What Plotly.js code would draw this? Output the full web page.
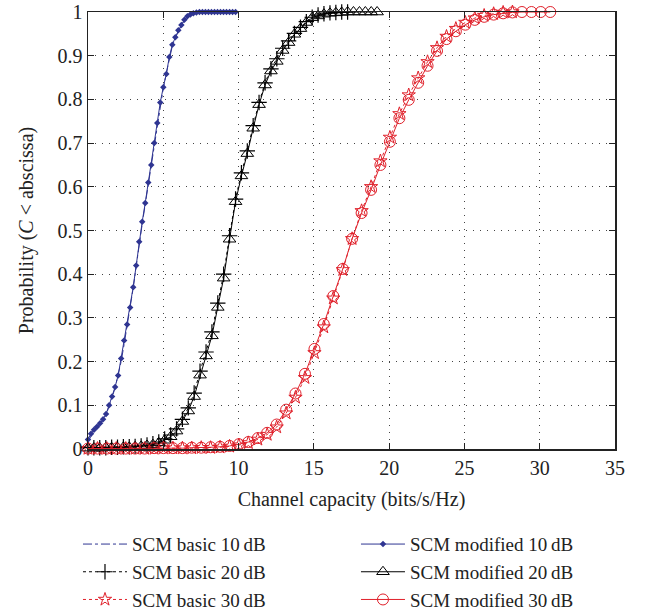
<!DOCTYPE html>
<html>
<head>
<meta charset="utf-8">
<script src="https://cdn.plot.ly/plotly-3.0.1.min.js"></script>
<style>html,body{margin:0;padding:0;background:#fff;}</style>
</head>
<body>
<div id="chart" style="width:651px;height:610px;"></div>
<script>
// Channel capacity grid points (bits/s/Hz)
const x10 = [0,0.2,0.4,0.6,0.8,1.0,1.2,1.4,1.6,1.8,2.0,2.2,2.4,2.6,2.8,3.0,3.2,3.4,3.6,3.8,4.0,4.2,4.4,4.6,4.8,5.0,5.2,5.4,5.6,5.8,6.0,6.2,6.4,6.6,6.8,7.0,7.2,7.4,7.6,7.8,8.0,8.2,8.4,8.6,8.8,9.0,9.2,9.4,9.6,9.8];
const x20 = [0,0.39,0.78,1.18,1.57,1.96,2.35,2.74,3.13,3.53,3.92,4.31,4.7,5.09,5.49,5.88,6.27,6.66,7.05,7.44,7.84,8.23,8.62,9.01,9.4,9.8,10.19,10.58,10.97,11.36,11.76,12.15,12.54,12.93,13.32,13.71,14.11,14.5,14.89,15.28,15.67,16.07,16.46,16.85,17.24,17.63,18.03,18.42,18.81,19.2];
const x30 = [0,0.63,1.25,1.88,2.51,3.13,3.76,4.39,5.01,5.64,6.27,6.89,7.52,8.14,8.77,9.4,10.02,10.65,11.28,11.9,12.53,13.16,13.78,14.41,15.04,15.66,16.29,16.92,17.54,18.17,18.8,19.42,20.05,20.68,21.3,21.93,22.55,23.18,23.81,24.43,25.06,25.69,26.31,26.94,27.57,28.19,28.82,29.45,30.07,30.7];

// CDF values
const basic10 = [0.018,0.03,0.04,0.048,0.056,0.066,0.078,0.096,0.118,0.14,0.168,0.2,0.24,0.28,0.322,0.368,0.418,0.47,0.515,0.56,0.606,0.65,0.698,0.742,0.786,0.826,0.86,0.893,0.922,0.94,0.957,0.969,0.981,0.989,0.994,0.997,0.999,1,1,1,1,1,1,1,1,1,1,1,1,1];
const mod10 = [0.022,0.035,0.044,0.051,0.059,0.068,0.08,0.1,0.12,0.142,0.168,0.207,0.248,0.285,0.324,0.37,0.42,0.474,0.52,0.563,0.61,0.65,0.7,0.746,0.793,0.828,0.858,0.897,0.925,0.942,0.958,0.97,0.982,0.99,0.994,0.997,0.999,1,1,1,1,1,1,1,1,1,1,1,1,1];
const basic20 = [0.003,0.003,0.003,0.003,0.004,0.004,0.005,0.005,0.006,0.007,0.009,0.012,0.016,0.023,0.032,0.046,0.068,0.094,0.128,0.178,0.222,0.268,0.334,0.4,0.488,0.572,0.632,0.682,0.74,0.793,0.838,0.87,0.893,0.917,0.934,0.951,0.965,0.978,0.988,0.993,0.996,0.998,0.999,1,1];
const mod20 = [0.002,0.002,0.002,0.003,0.003,0.003,0.004,0.004,0.005,0.006,0.008,0.01,0.014,0.02,0.028,0.041,0.063,0.087,0.12,0.169,0.213,0.259,0.324,0.391,0.48,0.566,0.625,0.676,0.734,0.788,0.833,0.865,0.887,0.912,0.93,0.949,0.962,0.976,0.987,0.991,0.995,0.997,0.998,0.999,1,1,1,1,1,1];
const basic30 = [0.001,0.001,0.001,0.001,0.001,0.001,0.001,0.001,0.002,0.002,0.002,0.002,0.003,0.003,0.004,0.006,0.009,0.014,0.022,0.033,0.05,0.082,0.118,0.163,0.22,0.279,0.345,0.41,0.481,0.545,0.6,0.659,0.713,0.767,0.81,0.849,0.886,0.918,0.944,0.962,0.976,0.986,0.992,0.996,0.999,1];
const mod30 = [0.001,0.001,0.001,0.001,0.001,0.001,0.001,0.002,0.002,0.002,0.002,0.003,0.003,0.004,0.005,0.007,0.011,0.016,0.025,0.037,0.056,0.09,0.127,0.172,0.229,0.286,0.35,0.412,0.481,0.54,0.593,0.65,0.703,0.757,0.799,0.838,0.877,0.911,0.938,0.956,0.971,0.982,0.989,0.994,0.997,0.999,1,1,1,1];

const names = ['SCM basic 10\u2009dB','SCM modified 10\u2009dB','SCM basic 20\u2009dB','SCM modified 20\u2009dB','SCM basic 30\u2009dB','SCM modified 30\u2009dB'];
const xTicks = [0,5,10,15,20,25,30,35];

const BLUE = '#2f3592', RED = '#e0202a', BLACK = '#000000';

const traces = [
  {x: x10, y: basic10, name: names[0], legend: 'legend', mode: 'lines', line: {color: BLUE, width: 1, dash: 'dashdot'}},
  {x: x20.slice(0, basic20.length), y: basic20, name: names[2], legend: 'legend', mode: 'lines+markers', line: {color: BLACK, width: 1, dash: 'dot'},
   marker: {symbol: 'cross-thin-open', size: 11, line: {color: BLACK, width: 1.2}}},
  {x: x30.slice(0, basic30.length), y: basic30, name: names[4], legend: 'legend', mode: 'lines+markers', line: {color: RED, width: 1, dash: 'dot'},
   marker: {symbol: 'star-open', size: 10, color: RED, line: {width: 1}}},
  {x: x10, y: mod10, name: names[1], legend: 'legend2', mode: 'lines+markers', line: {color: BLUE, width: 1},
   marker: {symbol: 'diamond', size: 5, color: BLUE}},
  {x: x20, y: mod20, name: names[3], legend: 'legend2', mode: 'lines+markers', line: {color: BLACK, width: 1},
   marker: {symbol: 'triangle-up-open', size: 11, color: BLACK, line: {width: 1}}},
  {x: x30, y: mod30, name: names[5], legend: 'legend2', mode: 'lines+markers', line: {color: RED, width: 1},
   marker: {symbol: 'circle-open', size: 11, color: RED, line: {width: 1}}}
];
traces.forEach(t => { t.cliponaxis = false; });

const FONT = 'Liberation Serif, DejaVu Serif, serif';
const axisCommon = {
  showline: true, mirror: 'ticks', linecolor: '#222', linewidth: 1.5,
  ticks: 'inside', ticklen: 6, tickcolor: '#222', tickwidth: 1.2,
  showgrid: true, gridcolor: '#444', gridwidth: 1, griddash: '1px,6px',
  zeroline: false, tickfont: {family: FONT, size: 20, color: '#222'}
};

const legendCommon = {
  orientation: 'v', xref: 'paper', yref: 'container',
  xanchor: 'left', y: 0.139, yanchor: 'top', itemwidth: 44,
  font: {family: FONT, size: 19, color: '#222'},
  bgcolor: 'rgba(0,0,0,0)', traceorder: 'normal', tracegroupgap: 0
};

const layout = {
  width: 651, height: 610,
  margin: {l: 88, r: 36, t: 12, b: 161, autoexpand: false},
  paper_bgcolor: '#fff', plot_bgcolor: '#fff',
  font: {family: FONT, color: '#222'},
  showlegend: true,
  xaxis: Object.assign({}, axisCommon, {
    range: [0, 35], tickvals: xTicks,
    title: {text: 'Channel capacity (bits/s/Hz)', font: {family: FONT, size: 20, color: '#222'}, standoff: 14}
  }),
  yaxis: Object.assign({}, axisCommon, {
    range: [0, 1], dtick: 0.1, tick0: 0,
    title: {text: 'Probability (<i>C</i> &lt; abscissa)', font: {family: FONT, size: 20, color: '#222'}, standoff: 18}
  }),
  legend: Object.assign({}, legendCommon, {x: -0.019}),
  legend2: Object.assign({}, legendCommon, {x: 0.5085})
};

Plotly.newPlot('chart', traces, layout, {displayModeBar: false, staticPlot: true});
</script>
</body>
</html>
